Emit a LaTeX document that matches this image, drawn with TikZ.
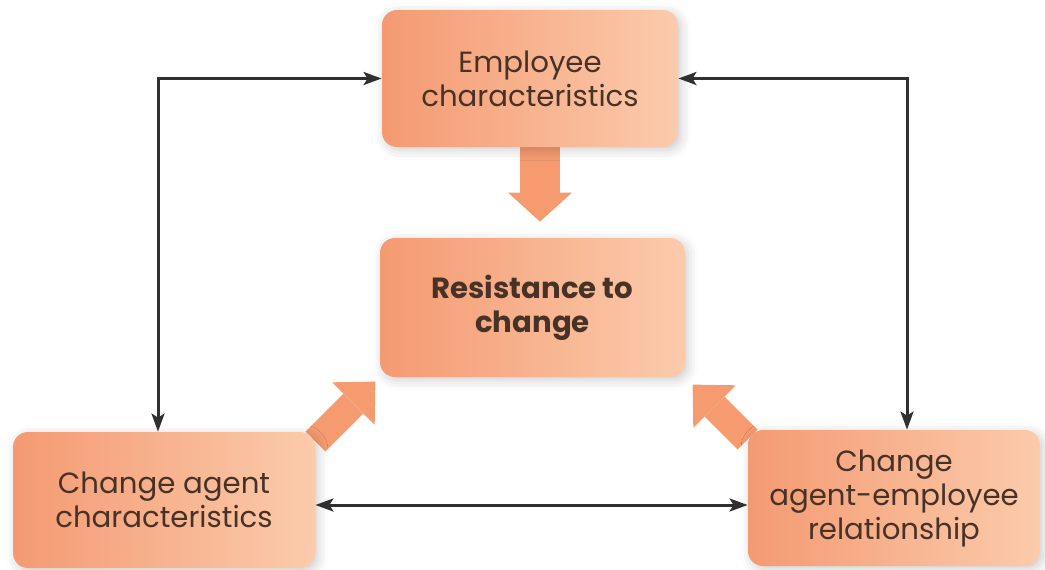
\documentclass[tikz,border=0pt]{standalone}
\usepackage{fontspec}
\setmainfont{Poppins}
\usetikzlibrary{positioning,arrows.meta,shadows.blur,backgrounds}
\definecolor{boxleft}{RGB}{244,154,114}
\definecolor{boxright}{RGB}{251,203,172}
\definecolor{fatorange}{RGB}{246,155,112}
\definecolor{inktext}{RGB}{72,50,38}
\definecolor{linkgray}{RGB}{48,48,48}

\begin{document}
\begin{tikzpicture}[x=0.5pt,y=-0.5pt,
  factor/.style={rounded corners=7.5pt, left color=boxleft, right color=boxright,
    inner sep=0pt, align=center, text=inktext, font=\fontsize{14.6}{17}\selectfont,
    blur shadow={shadow xshift=1.5pt,shadow yshift=-1.5pt,shadow blur radius=5pt,shadow opacity=20}},
  link/.style={draw=linkgray, line width=1.5pt,
    {Stealth[length=9pt,width=6.5pt,inset=2pt]}-{Stealth[length=9pt,width=6.5pt,inset=2pt]}},
  push/.style={draw=fatorange}]
  \useasboundingbox (0,0) rectangle (1045,569);

  % the four factors
  \node[factor, minimum width=148pt, minimum height=68.5pt] (emp) at (530,78.5)
    {Employee\\characteristics};
  \node[factor, minimum width=152.5pt, minimum height=69.5pt] (res) at (532.5,307.5)
    {\bfseries Resistance to\\\bfseries change};
  \node[factor, minimum width=151pt, minimum height=68pt] (agent) at (164,500)
    {Change agent\\characteristics};
  \node[factor, minimum width=146pt, minimum height=68pt] (rel) at (894,498)
    {Change\\agent-employee\\relationship};

  % fat arrows into resistance
  \begin{pgfonlayer}{background}
    \draw[push, line width=20pt, -{Triangle[length=14.5pt,width=32pt,line width=0pt]}]
      ([xshift=5pt,yshift=2pt]emp.south) -- ([xshift=3.75pt,yshift=8pt]res.north);
    \draw[push, line width=14pt, -{Triangle[length=15.5pt,width=30pt,line width=0pt]}]
      ([yshift=-5pt]agent.north east) -- ++(60,-60);
    \draw[push, line width=14pt, -{Triangle[length=15.5pt,width=30pt,line width=0pt]}]
      ([yshift=-5pt]rel.north west) -- ++(-55,-55);
  \end{pgfonlayer}

  % two-way links
  \draw[link] (emp.west) -| ([xshift=-3pt]agent.north);
  \draw[link] (emp.east) -| ([xshift=6.5pt]rel.north);
  \draw[link] ([yshift=-2.5pt]agent.east) -- ([yshift=-2.5pt]agent.east -| rel.west);
\end{tikzpicture}
\end{document}
